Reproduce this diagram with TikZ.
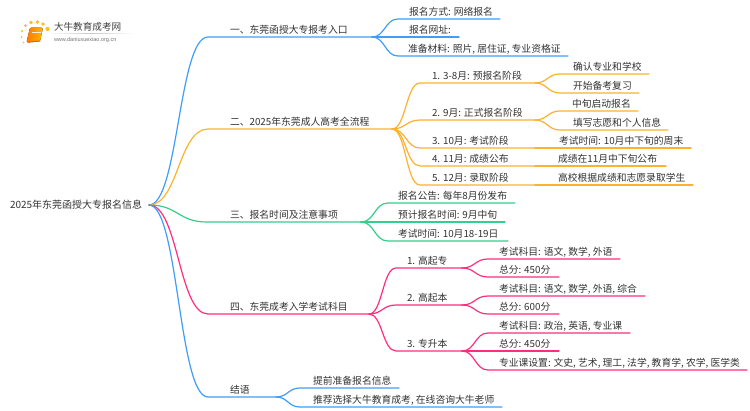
\documentclass[tikz,border=0pt]{standalone}
\usepackage{fontspec}
\setmainfont{Noto Sans CJK SC}
\newfontfamily\urlfont{Liberation Sans}
\usetikzlibrary{calc}
\definecolor{cblue}{HTML}{3F9DFB}
\definecolor{corange}{HTML}{FDB22F}
\definecolor{cgreen}{HTML}{34CF8C}
\definecolor{cpink}{HTML}{FF2D7E}
\definecolor{ctext}{HTML}{333333}
\tikzset{
  lbl/.style={anchor=base west,inner sep=0pt,outer sep=0pt,text=ctext,font=\fontsize{9.8}{11}\selectfont},
  link/.style={line width=1.2pt,line cap=round}
}
\newcommand{\Bq}[8]{%
  \coordinate (#3-in) at (#4,#5);
  \coordinate (#3-out) at (#6,#5);
  \node[lbl] (#3) at (#7,#5-3.2) {#8};
  \coordinate (mid) at ($(#2-out)!.5!(#3-in)$);
  \draw[link,#1] (#2-out) .. controls (mid|-#2-out) and (mid|-#3-in) .. (#3-in) -- (#3-out);
}
\begin{document}
\begin{tikzpicture}[x=1pt,y=-1pt]
\useasboundingbox (0,0) rectangle (750,410);
\fill[white] (0,0) rectangle (750,410);
% logo
\foreach \px/\py/\pr in {25.5/25.5/1.5,31/22.5/1.8,37.5/22/1.9,43/24/1.9,47.5/29/2.1,22/31/1.2,21.5/37/1,23.5/42.5/.9}
  \fill[corange!85!yellow] (\px,\py) circle (\pr);
\fill[left color=orange!95!red,right color=orange!55!yellow,rounded corners=1.5pt] (30,27.5) -- (43,27.5) -- (40,41.5) -- (26.5,42.5) -- cycle;
\draw[white!85!orange,line width=.6pt] (32,32.5) -- (40.5,32.5);
\draw[orange!75!red,line width=.9pt,line cap=round] (27,42) -- (40,41.2);
\fill[left color=white,right color=white,middle color=black!22] (48,33) rectangle (134,33.7);
\node[lbl,text=black!75,font=\fontsize{9.6}{11}\selectfont] (logotitle) at (54,30.5) {大牛教育成考网};
\node[lbl,text=black!55,font=\urlfont\fontsize{5.5}{6}\selectfont] (logourl) at (54,41) {www.daniuxuexiao.org.cn};
% root
\node[lbl,font=\fontsize{10}{11}\selectfont] (root) at (10,208.6) {2025年东莞函授大专报名信息};
\coordinate (root-out) at (149,205);
% branch 1
\Bq{cblue}{root}{a}{208}{37}{372}{230}{一、东莞函授大专报考入口}
\Bq{cblue}{a}{a1}{398}{19}{500}{409}{报名方式: 网络报名}
\Bq{cblue}{a}{a2}{398}{37}{459}{409}{报名网址:}
\Bq{cblue}{a}{a3}{398}{56}{568}{408}{准备材料: 照片, 居住证, 专业资格证}
% branch 2
\Bq{corange}{root}{b}{208}{129}{392}{230}{二、2025年东莞成人高考全流程}
\Bq{corange}{b}{b1}{420}{83}{535}{432}{1. 3-8月: 预报名阶段}
\Bq{corange}{b1}{b11}{560}{74}{649}{573}{确认专业和学校}
\Bq{corange}{b1}{b12}{560}{93}{639}{573}{开始备考复习}
\Bq{corange}{b}{b2}{420}{120}{535}{432}{2. 9月: 正式报名阶段}
\Bq{corange}{b2}{b21}{560}{111}{638}{572}{中旬启动报名}
\Bq{corange}{b2}{b22}{560}{130}{668}{573}{填写志愿和个人信息}
\Bq{corange}{b}{b3}{420}{148}{535}{432}{3. 10月: 考试阶段}
\Bq{corange}{b3}{b31}{545}{148}{691}{559}{考试时间: 10月中下旬的周末}
\Bq{corange}{b}{b4}{420}{166}{535}{432}{4. 11月: 成绩公布}
\Bq{corange}{b4}{b41}{545}{166}{666}{558}{成绩在11月中下旬公布}
\Bq{corange}{b}{b5}{420}{185}{535}{432}{5. 12月: 录取阶段}
\Bq{corange}{b5}{b51}{545}{185}{693}{558}{高校根据成绩和志愿录取学生}
% branch 3
\Bq{cgreen}{root}{c}{207}{222}{361}{230}{三、报名时间及注意事项}
\Bq{cgreen}{c}{c1}{388}{203}{515}{398}{报名公告: 每年8月份发布}
\Bq{cgreen}{c}{c2}{388}{222}{505}{398}{预计报名时间: 9月中旬}
\Bq{cgreen}{c}{c3}{388}{241}{508}{398}{考试时间: 10月18-19日}
% branch 4
\Bq{cpink}{root}{d}{208}{314}{369}{230}{四、东莞成考入学考试科目}
\Bq{cpink}{d}{d1}{396}{268}{462}{407}{1. 高起专}
\Bq{cpink}{d1}{d11}{488}{259}{620}{499}{考试科目: 语文, 数学, 外语}
\Bq{cpink}{d1}{d12}{488}{277}{559}{499}{总分: 450分}
\Bq{cpink}{d}{d2}{396}{305}{462}{407}{2. 高起本}
\Bq{cpink}{d2}{d21}{488}{296}{645}{499}{考试科目: 语文, 数学, 外语, 综合}
\Bq{cpink}{d2}{d22}{488}{314}{559}{499}{总分: 600分}
\Bq{cpink}{d}{d3}{396}{351}{462}{407}{3. 专升本}
\Bq{cpink}{d3}{d31}{488}{333}{630}{499}{考试科目: 政治, 英语, 专业课}
\Bq{cpink}{d3}{d32}{488}{351}{559}{499}{总分: 450分}
\Bq{cpink}{d3}{d33}{488}{370}{747}{499}{专业课设置: 文史, 艺术, 理工, 法学, 教育学, 农学, 医学类}
% branch 5
\Bq{cblue}{root}{e}{208}{397}{276}{230}{结语}
\Bq{cblue}{e}{e1}{300}{388}{399}{313}{提前准备报名信息}
\Bq{cblue}{e}{e2}{300}{407}{502}{313}{推荐选择大牛教育成考, 在线咨询大牛老师}
\end{tikzpicture}
\end{document}
